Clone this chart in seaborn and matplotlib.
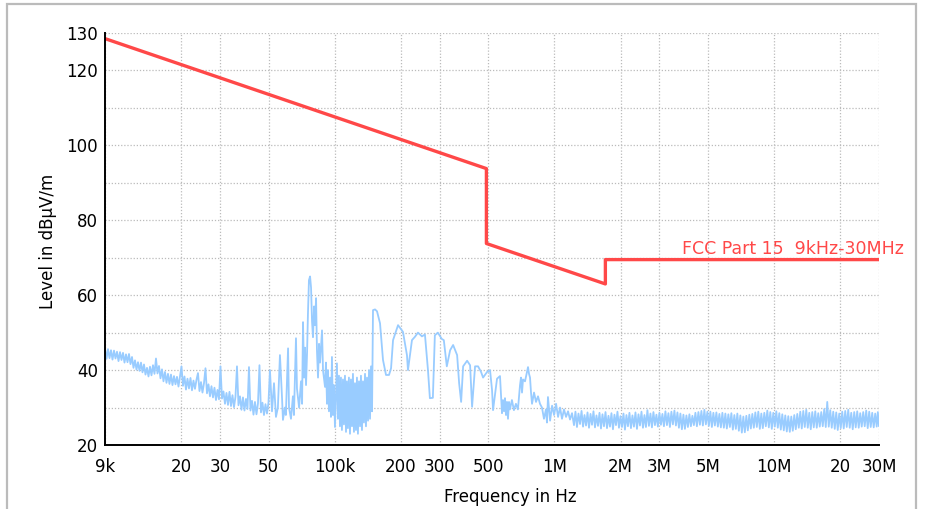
import numpy as np
import pandas as pd
import matplotlib
matplotlib.use("Agg")
import matplotlib.pyplot as plt
import seaborn as sns
from matplotlib.ticker import FixedLocator, FixedFormatter, NullLocator
from matplotlib.patches import Rectangle

# ---- limit line (FCC Part 15, 9 kHz - 30 MHz, dBuV/m) ----
limit_freq_hz = [9e3, 490e3, 490e3, 1.705e6, 1.705e6, 30e6]
limit_level = [128.5, 93.8, 73.8, 63.0, 69.5, 69.5]
limit_label = "FCC Part 15  9kHz-30MHz"

trace_freq_khz = [
    # 9 kHz - 50 kHz
    9.000, 9.143, 9.288, 9.435, 9.584, 9.736, 9.890, 10.047, 10.206, 10.368,
    10.532, 10.699, 10.868, 11.040, 11.215, 11.393, 11.573, 11.757, 11.943, 12.132,
    12.324, 12.519, 12.718, 12.919, 13.124, 13.332, 13.543, 13.757, 13.975, 14.197,
    14.421, 14.650, 14.882, 15.118, 15.357, 15.600, 15.847, 16.098, 16.353, 16.612,
    16.876, 17.143, 17.415, 17.690, 17.971, 18.255, 18.545, 18.838, 19.137, 19.440,
    19.748, 20.061, 20.378, 20.701, 21.029, 21.362, 21.701, 22.045, 22.394, 22.749,
    23.109, 23.475, 23.847, 24.225, 24.609, 24.999, 25.395, 25.797, 26.206, 26.621,
    27.043, 27.471, 27.906, 28.349, 28.798, 29.254, 29.717, 30.188, 30.666, 31.152,
    31.646, 32.147, 32.656, 33.174, 33.699, 34.233, 34.776, 35.327, 35.886, 36.455,
    37.032, 37.619, 38.215, 38.820, 39.435, 40.060, 40.695, 41.340, 41.995, 42.660,
    43.336, 44.022, 44.720, 45.428, 46.148, 46.879, 47.622, 48.376, 49.143, 49.921,
    # 50 kHz - 1.2 MHz
    50.7, 51.8, 52.9, 54.0, 55.1, 56.3, 57.5, 58.1, 59.3, 59.9,
    61.3, 61.9, 63.2, 64.5, 65.2, 66.6, 67.3, 68.8, 70.2, 71.0,
    71.7, 72.5, 73.2, 74.0, 74.8, 75.5, 76.3, 77.2, 78.0, 78.8,
    79.6, 80.5, 81.3, 82.2, 83.0, 83.9, 84.8, 85.7, 87.5, 88.4,
    90.3, 91.2, 92.2, 93.1, 94.1, 95.1, 96.1, 97.1, 98.1, 99.1,
    100.2, 101.2, 102.3, 103.4, 104.5, 105.6, 106.7, 107.8, 109.0, 110.1,
    111.3, 112.5, 113.6, 114.8, 116.0, 117.3, 118.5, 119.8, 121.0, 122.3,
    123.6, 124.9, 126.2, 127.5, 128.9, 130.3, 131.6, 133.0, 134.4, 135.8,
    137.3, 138.7, 140.2, 141.7, 143.2, 144.7, 146.2, 147.8, 149.3, 152.5,
    155.7, 160.7, 165.8, 171.1, 176.6, 180.4, 184.2, 194.1, 204.4, 213.1,
    215.4, 224.6, 231.8, 239.2, 249.4, 257.3, 265.6, 271.0, 279.6, 285.5,
    294.6, 307.1, 313.6, 323.6, 335.0, 345.7, 360.5, 368.2, 376.0, 383.9,
    400.3, 413.0, 421.7, 435.1, 449.0, 463.4, 473.2, 493.4, 509.0, 519.8,
    525.3, 547.7, 565.0, 577.0, 583.1, 589.2, 595.4, 601.7, 608.0, 614.4,
    620.9, 627.0, 640.3, 653.8, 667.7, 681.8, 697.0, 704.3, 711.7, 719.2,
    734.4, 750.0, 757.9, 765.9, 774.0, 782.1, 790.4, 807.1, 824.2, 841.6,
    859.0, 877.2, 895.8, 914.7, 924.4, 934.1, 955.0, 975.2, 995.8, 1016.9,
    1038.4, 1060, 1082, 1105, 1129, 1153, 1177, 1202,
    # 1.2 MHz - 30 MHz
    1227, 1246, 1266, 1286, 1307, 1328, 1349, 1370, 1392, 1414,
    1436, 1459, 1482, 1505, 1529, 1553, 1578, 1603, 1628, 1654,
    1680, 1707, 1734, 1761, 1789, 1817, 1846, 1875, 1905, 1935,
    1966, 1997, 2029, 2061, 2093, 2126, 2160, 2194, 2229, 2264,
    2300, 2337, 2374, 2412, 2450, 2489, 2528, 2568, 2608, 2649,
    2691, 2734, 2777, 2821, 2866, 2911, 2957, 3004, 3052, 3100,
    3149, 3199, 3250, 3301, 3353, 3406, 3460, 3515, 3571, 3628,
    3685, 3743, 3802, 3863, 3924, 3986, 4049, 4113, 4178, 4244,
    4311, 4380, 4449, 4520, 4591, 4664, 4737, 4812, 4888, 4966,
    5044, 5124, 5205, 5288, 5371, 5457, 5543, 5631, 5720, 5811,
    5902, 5996, 6090, 6187, 6285, 6385, 6485, 6588, 6692, 6798,
    6906, 7015, 7126, 7239, 7353, 7470, 7588, 7708, 7830, 7954,
    8080, 8208, 8337, 8469, 8604, 8740, 8878, 9018, 9161, 9306,
    9454, 9603, 9755, 9910, 10066, 10226, 10387, 10552, 10719, 10889,
    11061, 11236, 11414, 11595, 11778, 11964, 12154, 12346, 12542, 12740,
    12942, 13147, 13355, 13567, 13781, 13999, 14221, 14446, 14675, 14907,
    15143, 15383, 15626, 15873, 16125, 16380, 16639, 16903, 17170, 17442,
    17718, 17999, 18284, 18573, 18867, 19166, 19469, 19777, 20090, 20408,
    20731, 21059, 21393, 21732, 22076, 22426, 22780, 23141, 23507, 23879,
    24257, 24641, 25031, 25428, 25830, 26239, 26654, 27076, 27505, 27941,
    28382, 28832, 29288, 29640, 30000,
]
trace_level = [
    # 9 kHz - 50 kHz
    45.8, 43.0, 45.6, 43.2, 45.3, 42.8, 45.2, 43.1, 44.9, 42.4,
    44.8, 42.7, 44.6, 42.0, 44.2, 42.1, 44.3, 41.6, 43.5, 40.6,
    42.6, 40.1, 42.1, 39.8, 42.0, 39.4, 41.5, 38.8, 40.6, 38.3,
    40.9, 38.6, 41.3, 39.0, 43.1, 39.1, 41.1, 37.8, 40.2, 37.0,
    39.5, 36.6, 39.0, 36.3, 38.8, 36.0, 38.4, 36.2, 38.2, 35.6,
    38.3, 41.0, 35.8, 38.3, 34.8, 37.7, 35.1, 37.9, 34.6, 37.2,
    35.0, 37.4, 39.2, 34.4, 36.8, 34.0, 36.5, 40.5, 33.8, 36.2,
    33.0, 35.7, 32.7, 35.3, 32.0, 34.7, 32.2, 41.0, 32.4, 34.3,
    31.0, 33.9, 30.7, 34.2, 30.4, 33.3, 30.1, 32.9, 41.0, 30.6,
    33.0, 29.4, 32.7, 29.2, 32.3, 29.6, 40.8, 29.2, 31.8, 28.1,
    31.5, 28.2, 31.1, 41.3, 28.7, 31.3, 28.0, 30.9, 28.4, 31.3,
    # 50 kHz - 1.2 MHz
    40.0, 29.0, 36.5, 27.5, 30.0, 44.0, 33.0, 26.7, 30.0, 28.0,
    45.8, 30.0, 27.0, 33.0, 28.0, 48.5, 35.0, 30.0, 37.0, 31.0,
    52.8, 38.0, 46.0, 36.0, 44.5, 55.0, 64.0, 65.0, 62.0, 53.0,
    48.8, 57.0, 52.0, 59.2, 45.0, 38.0, 47.0, 42.0, 50.6, 40.0,
    35.5, 42.0, 31.0, 40.0, 29.0, 38.0, 27.5, 43.5, 28.0, 36.0,
    24.8, 33.0, 41.8, 27.0, 38.5, 25.0, 38.0, 24.0, 37.5, 25.5,
    38.5, 23.5, 37.0, 24.5, 38.0, 23.0, 37.5, 25.0, 39.0, 23.5,
    36.5, 24.0, 38.0, 23.0, 37.0, 25.0, 38.5, 24.0, 37.0, 26.0,
    39.0, 25.0, 38.0, 26.5, 40.0, 27.0, 41.0, 29.0, 56.0, 56.2,
    55.7, 52.5, 42.7, 38.7, 38.7, 40.5, 48.0, 52.0, 50.2, 44.0,
    40.0, 48.0, 48.9, 50.0, 49.0, 49.5, 40.0, 32.5, 32.6, 49.3,
    50.0, 48.3, 48.0, 41.0, 45.3, 46.7, 44.0, 36.5, 31.5, 41.0,
    42.5, 41.3, 30.2, 41.0, 41.0, 39.5, 38.0, 39.5, 40.0, 34.7,
    29.3, 37.7, 38.4, 28.5, 32.0, 29.0, 32.5, 28.0, 31.5, 27.0,
    31.5, 29.5, 32.0, 29.3, 31.0, 29.5, 36.0, 38.0, 34.0, 37.5,
    37.0, 39.5, 40.8, 39.0, 38.0, 34.0, 31.0, 34.0, 31.5, 33.0,
    31.0, 30.0, 27.0, 29.5, 26.0, 32.8, 26.5, 30.5, 28.0, 31.0,
    27.5, 30.0, 27.0, 29.5, 27.5, 29.0, 26.8, 28.5,
    # 1.2 MHz - 30 MHz
    25.3, 28.9, 24.8, 28.4, 25.6, 29.1, 24.9, 28.0, 25.2, 28.7,
    24.6, 28.3, 25.4, 29.0, 24.7, 27.9, 25.1, 28.6, 24.4, 28.2,
    25.0, 28.8, 24.5, 27.8, 24.9, 28.5, 24.2, 28.1, 25.3, 28.9,
    24.6, 27.7, 24.8, 28.4, 24.1, 28.0, 25.0, 28.6, 24.5, 27.9,
    24.9, 28.7, 24.3, 28.2, 25.2, 28.9, 24.6, 28.0, 24.8, 29.3,
    25.1, 28.4, 24.7, 28.8, 25.3, 28.1, 24.9, 28.6, 25.4, 28.3,
    25.0, 29.0, 25.3, 28.5, 24.8, 28.9, 25.5, 29.2, 25.2, 28.7,
    24.6, 28.4, 24.2, 28.1, 24.3, 27.9, 24.8, 28.2, 25.0, 27.8,
    25.3, 28.6, 25.0, 28.8, 25.4, 29.1, 25.2, 29.4, 25.5, 28.9,
    25.1, 28.9, 24.8, 28.6, 25.2, 28.7, 24.9, 28.3, 24.7, 28.6,
    24.6, 28.4, 24.4, 28.2, 24.8, 28.5, 24.1, 28.0, 24.3, 28.4,
    23.8, 27.9, 23.3, 27.6, 23.4, 27.8, 23.9, 28.1, 24.4, 28.3,
    24.6, 28.7, 24.8, 28.9, 24.3, 28.4, 24.5, 28.6, 25.0, 29.2,
    24.7, 28.8, 24.3, 28.6, 24.9, 29.0, 24.6, 28.5, 24.1, 28.2,
    23.9, 27.9, 23.6, 27.7, 23.5, 27.6, 23.8, 28.0, 24.2, 28.3,
    24.6, 28.9, 24.4, 29.1, 24.8, 29.4, 24.6, 28.6, 24.2, 28.8,
    24.7, 29.0, 24.6, 28.5, 24.9, 28.8, 25.0, 29.6, 24.8, 31.5,
    24.9, 29.3, 24.6, 28.9, 24.3, 28.7, 24.0, 28.4, 24.5, 28.9,
    24.4, 29.1, 24.8, 29.4, 24.6, 28.6, 24.2, 28.8, 24.7, 29.0,
    24.6, 28.5, 24.9, 28.8, 25.0, 29.2, 24.5, 28.9, 24.8, 28.6,
    24.7, 28.4, 24.9, 28.8, 25.0,
]
assert len(trace_freq_khz) == len(trace_level), (len(trace_freq_khz), len(trace_level))

# ---- axes ticks ----
x_ticks_hz = [9e3, 20e3, 30e3, 50e3, 100e3, 200e3, 300e3, 500e3,
              1e6, 2e6, 3e6, 5e6, 10e6, 20e6, 30e6]
x_tick_labels = ["9k", "20", "30", "50", "100k", "200", "300", "500",
                 "1M", "2M", "3M", "5M", "10M", "20", "30M"]
y_ticks = [20, 30, 40, 50, 60, 70, 80, 90, 100, 110, 120, 130]
y_tick_labels = ["20", "", "40", "", "60", "", "80", "", "100", "", "120", "130"]

trace_color = "#99CCFF"
limit_color = "#FF4848"

sns.set_theme(style="white")
plt.rcParams["font.family"] = ["DejaVu Sans"]

W, H = 944, 509
fig = plt.figure(figsize=(W / 100, H / 100), dpi=100)
fig.patch.set_facecolor("white")
ax = fig.add_axes([105 / W, 1 - 445 / H, (879 - 105) / W, (445 - 33) / H])
ax.set_xscale("log")

trace_df = pd.DataFrame({"freq": np.array(trace_freq_khz) * 1e3, "level": trace_level})
limit_df = pd.DataFrame({"freq": limit_freq_hz, "level": limit_level})

sns.lineplot(data=trace_df, x="freq", y="level", ax=ax, color=trace_color,
             linewidth=1.3, sort=False, estimator=None, zorder=3)
sns.lineplot(data=limit_df, x="freq", y="level", ax=ax, color=limit_color,
             linewidth=2.4, sort=False, estimator=None, zorder=4)

ax.set_xlim(9e3, 30e6)
ax.set_ylim(20, 130)
ax.xaxis.set_major_locator(FixedLocator(x_ticks_hz))
ax.xaxis.set_major_formatter(FixedFormatter(x_tick_labels))
ax.xaxis.set_minor_locator(NullLocator())
ax.yaxis.set_major_locator(FixedLocator(y_ticks))
ax.yaxis.set_major_formatter(FixedFormatter(y_tick_labels))
ax.yaxis.set_minor_locator(NullLocator())

ax.set_axisbelow(True)
ax.grid(True, which="major", color="#BBBBBB", linestyle=(0, (1, 1.5)), linewidth=0.9)
for s in ["top", "right"]:
    ax.spines[s].set_visible(False)
for s in ["left", "bottom"]:
    ax.spines[s].set_color("black")
    ax.spines[s].set_linewidth(1.4)
    ax.spines[s].set_zorder(5)

ax.tick_params(axis="both", direction="inout", length=8, width=1.3, colors="black",
               labelsize=12)
ax.tick_params(axis="x", pad=5)
ax.tick_params(axis="y", pad=1)

ax.set_xlabel("Frequency in Hz", fontsize=12, color="black")
ax.set_ylabel("Level in dBµV/m", fontsize=12, color="black")
ax.xaxis.set_label_coords((510 - 105) / 774, (445 - 488) / 412)
ax.yaxis.set_label_coords((57 - 105) / 774, (445 - 241) / 412)

ax.text(3.8e6, 72.4, limit_label, color=limit_color, fontsize=12.5,
        ha="left", va="center", clip_on=False)

fig.add_artist(Rectangle((7 / W, -0.05), (916 - 7) / W, 1.05 - 4 / H,
                         transform=fig.transFigure, fill=False,
                         edgecolor="#BBBBBB", linewidth=1.6))

fig.savefig("out.png", dpi=100, facecolor="white")
